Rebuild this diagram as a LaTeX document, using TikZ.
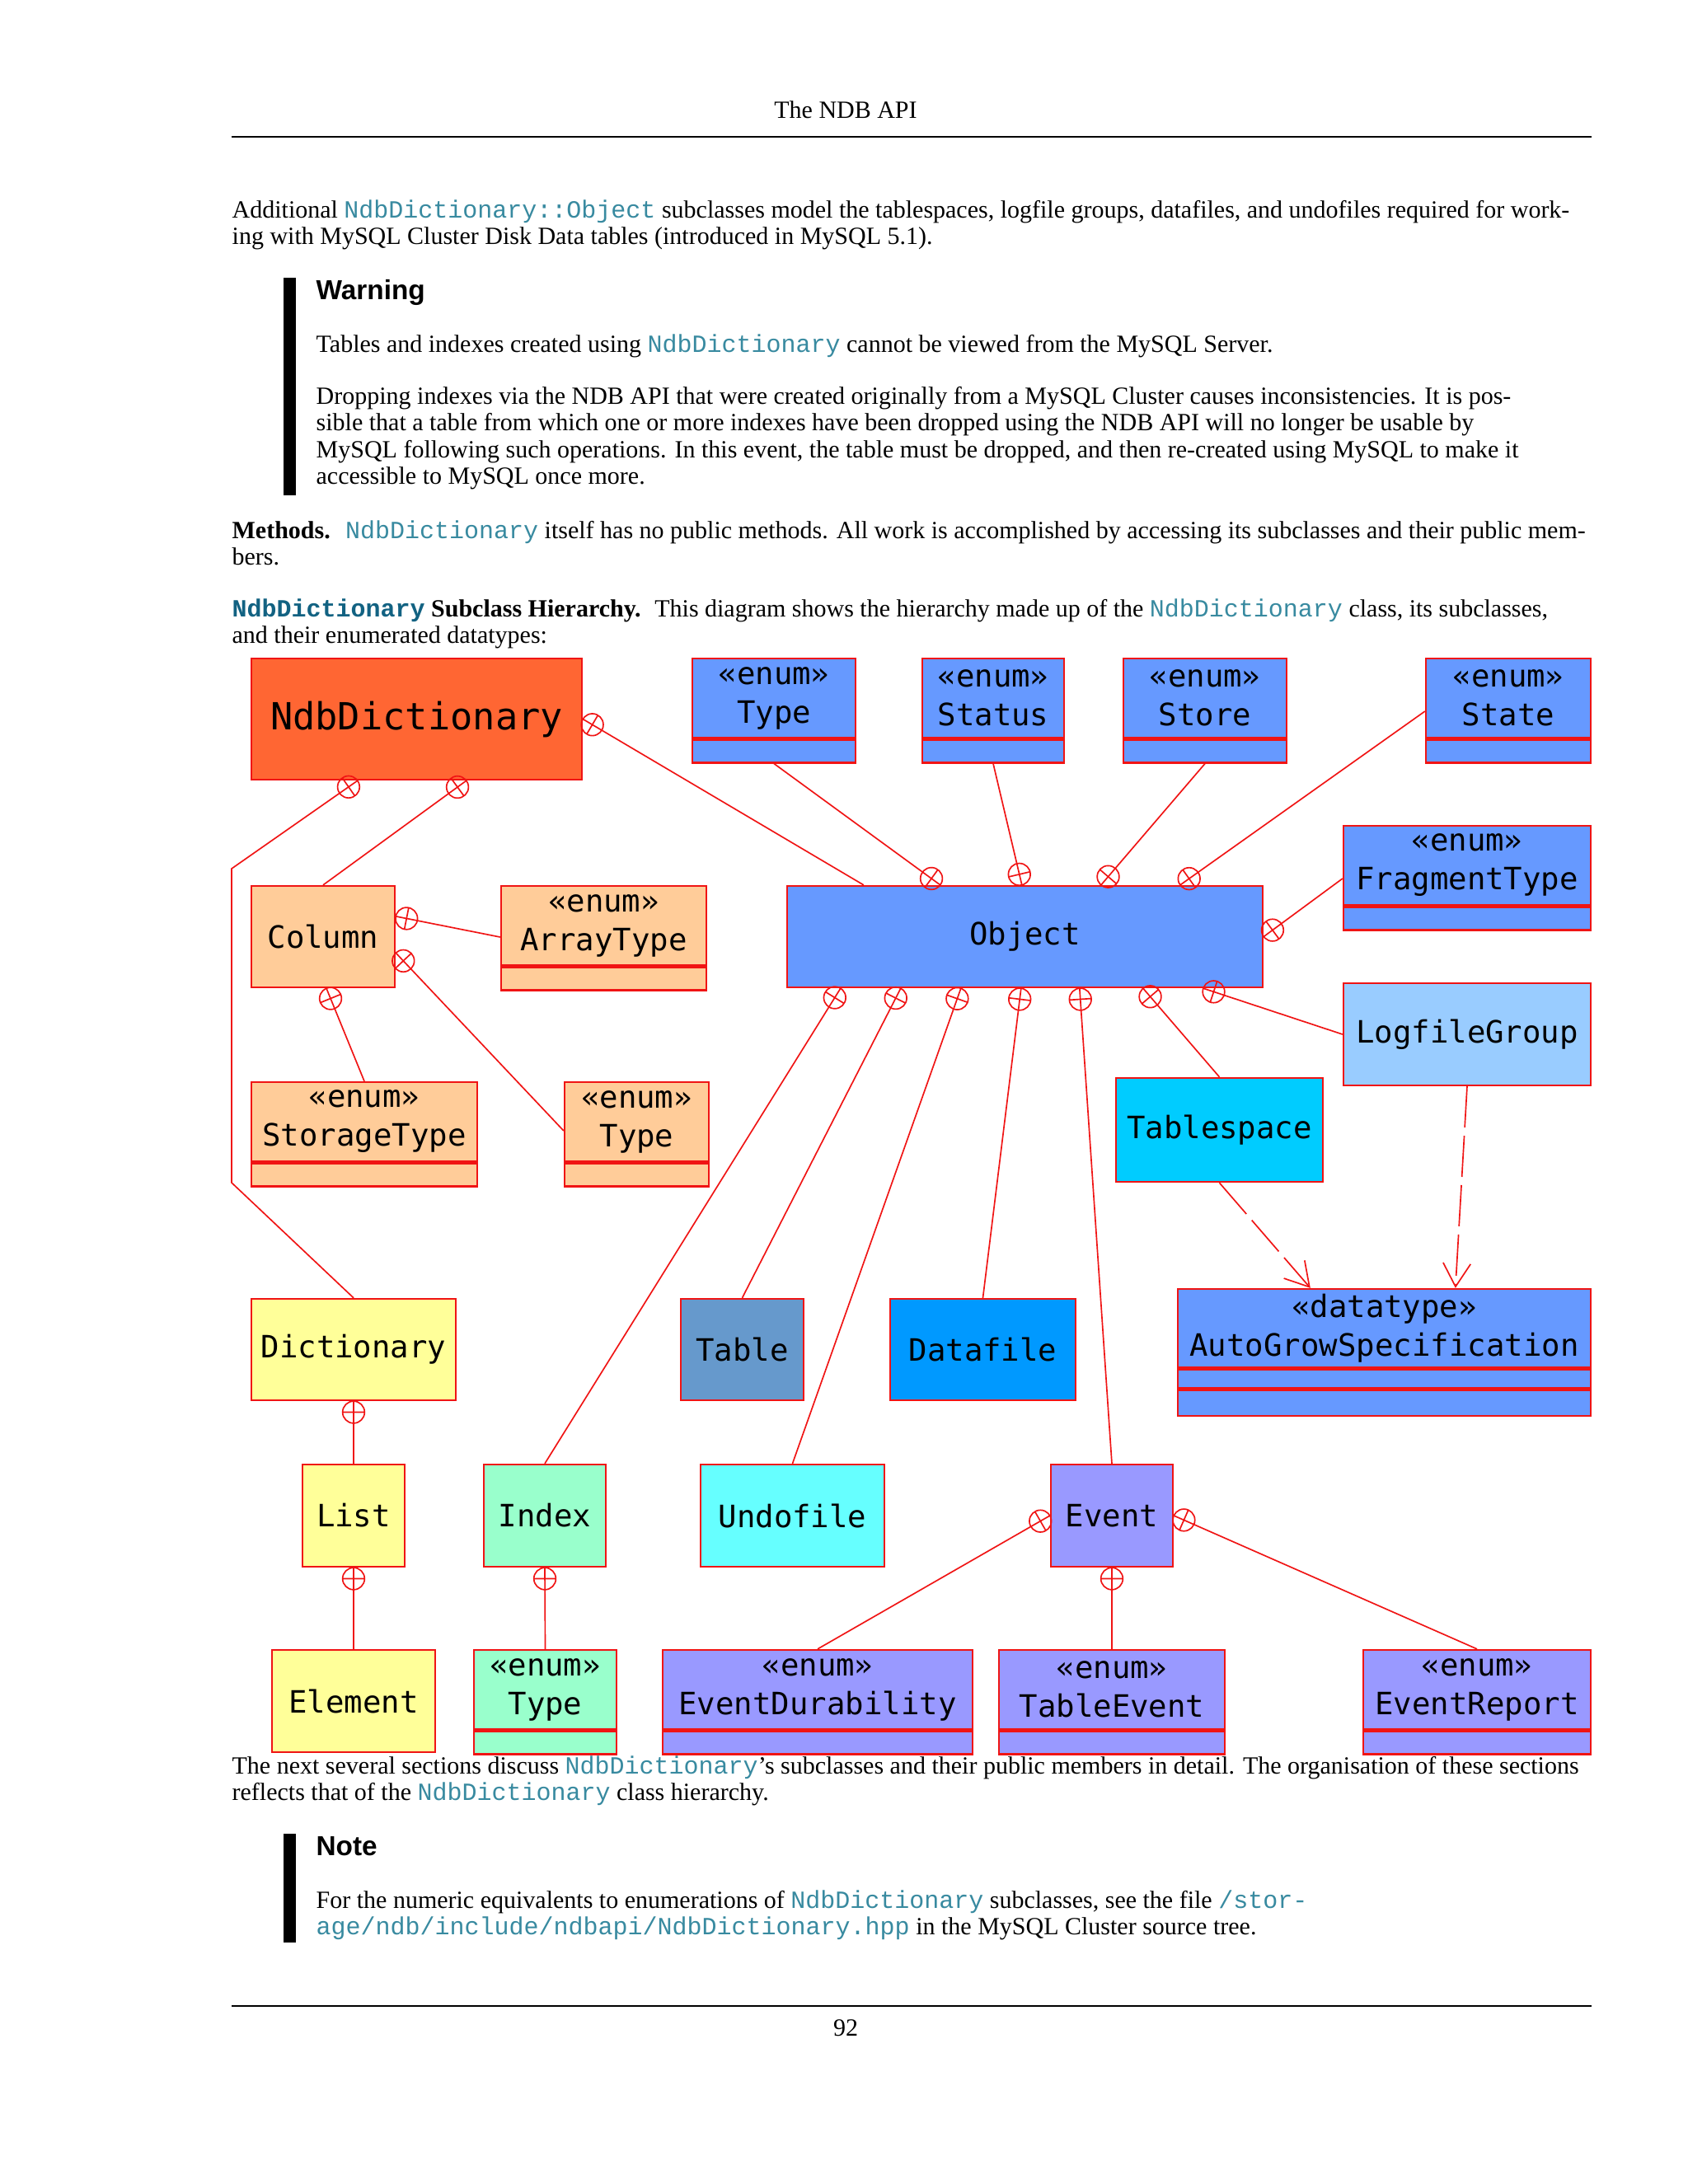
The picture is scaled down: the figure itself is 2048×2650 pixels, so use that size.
\documentclass[tikz,border=0pt]{standalone}
\usepackage{fontspec}
\setmainfont{Liberation Serif}
\setmonofont{Liberation Mono}
\newfontfamily\umlfont{DejaVu Sans Mono}
\newfontfamily\headfont{Liberation Sans}
\usetikzlibrary{positioning,calc,arrows.meta}

\definecolor{umlred}{RGB}{240,20,20}
\definecolor{linkteal}{RGB}{56,138,160}
\definecolor{headteal}{RGB}{18,98,130}
\definecolor{ndbfill}{RGB}{255,102,51}
\definecolor{objblue}{RGB}{102,153,255}
\definecolor{colpeach}{RGB}{255,204,153}
\definecolor{lfgblue}{RGB}{153,204,255}
\definecolor{tscyan}{RGB}{0,204,255}
\definecolor{dictyellow}{RGB}{255,255,153}
\definecolor{tablesteel}{RGB}{102,153,204}
\definecolor{fileblue}{RGB}{0,153,255}
\definecolor{idxmint}{RGB}{153,255,204}
\definecolor{undocyan}{RGB}{102,255,255}
\definecolor{evlilac}{RGB}{153,153,255}

\newcommand{\code}[1]{{\ttfamily\color{linkteal}#1}}
\newcommand{\bodyfont}{\fontsize{9pt}{9.75pt}\selectfont}

% nesting mark: circle with cross at the owner end
\newcommand{\nestmark}[2]{%
  \path ($(#1)!4pt!(#2)$) coordinate (nm);
  \draw[link] (nm) circle (4pt) ($(nm)!4pt!90:(#2)$) -- ($(nm)!4pt!-90:(#2)$);
}
\newcommand{\nestline}[2]{%
  \draw[link] (#1) -- (#2);
  \nestmark{#1}{#2}
}

\tikzset{
  umlbox/.style={draw=umlred, line width=0.7pt, inner sep=1pt, align=center,
    font=\umlfont\fontsize{11.2pt}{14.1pt}\selectfont},
  enumtop/.style={umlbox, minimum height=28.8pt},
  enumfoot/.style={umlbox, minimum height=8.4pt},
  link/.style={umlred, line width=0.5pt},
  dep/.style={umlred, line width=0.5pt, dash pattern=on 15pt off 3pt,
    -{Straight Barb[length=8.5pt,width=10pt]}},
  para/.style={anchor=base west, inner sep=0pt, font=\bodyfont}
}

\begin{document}
\begin{tikzpicture}[x=0.3pt, y=-0.3pt]
\useasboundingbox (0,0) rectangle (2048,2650);
\fill[white] (0,0) rectangle (2048,2650);

% page head
\node (hdr) [anchor=base, inner sep=0pt, font=\bodyfont] at (1026,143) {The NDB API};
\draw[line width=0.8pt] (281,166) -- (1931,166);

\node (intro) [para] at (281,264) {\parbox[t]{560pt}{\raggedright
Additional \code{NdbDictionary::Object} subclasses model the tablespaces, logfile groups, datafiles, and undofiles required for work-\\
ing with MySQL Cluster Disk Data tables (introduced in MySQL 5.1).}};

% warning
\fill (344,337) rectangle (359,601);
\node (warn) [anchor=base west, inner sep=0pt, font=\headfont\bfseries\fontsize{10pt}{12pt}\selectfont] at (383,363) {Warning};
\node (warn1) [para] at (383,427) {\parbox[t]{560pt}{\raggedright
Tables and indexes created using \code{NdbDictionary} cannot be viewed from the MySQL Server.}};
\node (warn2) [para] at (383,490) {\parbox[t]{560pt}{\raggedright
Dropping indexes via the NDB API that were created originally from a MySQL Cluster causes inconsistencies. It is pos-\\
sible that a table from which one or more indexes have been dropped using the NDB API will no longer be usable by\\
MySQL following such operations. In this event, the table must be dropped, and then re-created using MySQL to make it\\
accessible to MySQL once more.}};

\node (methods) [para] at (281,653) {\parbox[t]{560pt}{\raggedright
\textbf{Methods.}\hspace{5.5pt}\code{NdbDictionary} itself has no public methods. All work is accomplished by accessing its subclasses and their public mem-\\
bers.}};
\node (hier) [para] at (281,748) {\parbox[t]{560pt}{\raggedright\leavevmode
{\ttfamily\bfseries\color{headteal}NdbDictionary} \textbf{Subclass Hierarchy.}\hspace{5pt}This diagram shows the hierarchy made up of the \code{NdbDictionary} class, its subclasses,\\
and their enumerated datatypes:}};

% classes
\node (ndb) [umlbox, fill=ndbfill, minimum width=120.3pt, minimum height=44.1pt,
  font=\umlfont\fontsize{13.6pt}{16pt}\selectfont] at (505.5,872.5) {NdbDictionary};

\node (otype) [enumtop, fill=objblue, minimum width=59.4pt] at (939,847) {«enum»\\Type};
\node (otype-f) [enumfoot, fill=objblue, minimum width=59.4pt, below=0pt of otype] {};
\node (ostatus) [enumtop, fill=objblue, minimum width=51.6pt] at (1205,847) {«enum»\\Status};
\node (ostatus-f) [enumfoot, fill=objblue, minimum width=51.6pt, below=0pt of ostatus] {};
\node (ostore) [enumtop, fill=objblue, minimum width=59.4pt] at (1462,847) {«enum»\\Store};
\node (ostore-f) [enumfoot, fill=objblue, minimum width=59.4pt, below=0pt of ostore] {};
\node (ostate) [enumtop, fill=objblue, minimum width=60pt] at (1830,847) {«enum»\\State};
\node (ostate-f) [enumfoot, fill=objblue, minimum width=60pt, below=0pt of ostate] {};
\node (frag) [enumtop, fill=objblue, minimum width=90pt] at (1780,1050) {«enum»\\FragmentType};
\node (frag-f) [enumfoot, fill=objblue, minimum width=90pt, below=0pt of frag] {};

\node (col) [umlbox, fill=colpeach, minimum width=52.2pt, minimum height=36.9pt] at (392,1136.5) {Column};
\node (arr) [enumtop, fill=colpeach, minimum width=74.7pt] at (732.5,1123) {«enum»\\ArrayType};
\node (arr-f) [enumfoot, fill=colpeach, minimum width=74.7pt, below=0pt of arr] {};
\node (obj) [umlbox, fill=objblue, minimum width=173.1pt, minimum height=36.9pt] at (1243.5,1136.5) {Object};
\node (stype) [enumtop, fill=colpeach, minimum width=82.2pt] at (442,1361) {«enum»\\StorageType};
\node (stype-f) [enumfoot, fill=colpeach, minimum width=82.2pt, below=0pt of stype] {};
\node (ctype) [enumtop, fill=colpeach, minimum width=52.5pt] at (772.5,1361) {«enum»\\Type};
\node (ctype-f) [enumfoot, fill=colpeach, minimum width=52.5pt, below=0pt of ctype] {};

\node (lfg) [umlbox, fill=lfgblue, minimum width=90pt, minimum height=37.2pt] at (1780,1255) {LogfileGroup};
\node (ts) [umlbox, fill=tscyan, minimum width=75.3pt, minimum height=37.8pt] at (1479.5,1371) {Tablespace};

\node (dict) [umlbox, fill=dictyellow, minimum width=74.4pt, minimum height=36.9pt] at (429,1637.5) {Dictionary};
\node (tbl) [umlbox, fill=tablesteel, minimum width=44.7pt, minimum height=36.9pt] at (900.5,1637.5) {Table};
\node (dfile) [umlbox, fill=fileblue, minimum width=67.5pt, minimum height=36.9pt] at (1192.5,1637.5) {Datafile};
\node (ag) [umlbox, fill=objblue, minimum width=150.3pt, minimum height=28.5pt] at (1679.5,1611.5) {«datatype»\\AutoGrowSpecification};
\node (ag-m) [umlbox, fill=objblue, minimum width=150.3pt, minimum height=6.9pt, below=0pt of ag] {};
\node (ag-f) [umlbox, fill=objblue, minimum width=150.3pt, minimum height=9.3pt, below=0pt of ag-m] {};

\node (list) [umlbox, fill=dictyellow, minimum width=37.2pt, minimum height=37.2pt] at (429,1839) {List};
\node (idx) [umlbox, fill=idxmint, minimum width=44.4pt, minimum height=37.2pt] at (661,1839) {Index};
\node (undo) [umlbox, fill=undocyan, minimum width=66.9pt, minimum height=37.2pt] at (961.5,1839) {Undofile};
\node (ev) [umlbox, fill=evlilac, minimum width=44.4pt, minimum height=37.2pt] at (1349,1839) {Event};

\node (elem) [umlbox, fill=dictyellow, minimum width=59.4pt, minimum height=37.2pt] at (429,2064) {Element};
\node (itype) [enumtop, fill=idxmint, minimum width=51.9pt] at (661.5,2050) {«enum»\\Type};
\node (itype-f) [enumfoot, fill=idxmint, minimum width=51.9pt, below=0pt of itype] {};
\node (edur) [enumtop, fill=evlilac, minimum width=112.8pt] at (992,2050) {«enum»\\EventDurability};
\node (edur-f) [enumfoot, fill=evlilac, minimum width=112.8pt, below=0pt of edur] {};
\node (tev) [enumtop, fill=evlilac, minimum width=82.2pt] at (1349,2050) {«enum»\\TableEvent};
\node (tev-f) [enumfoot, fill=evlilac, minimum width=82.2pt, below=0pt of tev] {};
\node (erep) [enumtop, fill=evlilac, minimum width=82.8pt] at (1792,2050) {«enum»\\EventReport};
\node (erep-f) [enumfoot, fill=evlilac, minimum width=82.8pt, below=0pt of erep] {};

% end points on the borders
\coordinate (ndb-dict) at ($(ndb.south west)+(130,0)$);
\coordinate (ndb-col) at ($(ndb.south west)+(262,0)$);
\coordinate (dict-bend1) at (281,1054);
\coordinate (dict-bend2) at (281,1435);
\coordinate (obj-in) at ($(obj.north west)+(94,0)$);
\coordinate (obj-type) at ($(obj.north west)+(187,0)$);
\coordinate (obj-status) at ($(obj.north west)+(286,0)$);
\coordinate (obj-store) at ($(obj.north west)+(382,0)$);
\coordinate (obj-state) at ($(obj.north west)+(478,0)$);
\coordinate (state-in) at ($(ostate.west)+(0,16)$);
\coordinate (frag-in) at ($(frag.west)+(0,16)$);
\coordinate (col-arr) at ($(col.north east)+(0,38)$);
\coordinate (arr-in) at ($(arr.west)+(0,14)$);
\coordinate (col-ctype) at ($(col.south east)+(0,-43)$);
\coordinate (ctype-in) at ($(ctype.west)+(0,11)$);
\coordinate (col-stype) at ($(col.south)+(4,0)$);
\coordinate (obj-idx) at ($(obj.south west)+(66,0)$);
\coordinate (obj-tbl) at ($(obj.south west)+(139,0)$);
\coordinate (obj-undo) at ($(obj.south west)+(212,0)$);
\coordinate (obj-dfile) at ($(obj.south west)+(285,0)$);
\coordinate (obj-ev) at ($(obj.south west)+(356,0)$);
\coordinate (obj-ts) at ($(obj.south west)+(433,0)$);
\coordinate (obj-lfg) at ($(obj.south west)+(506,0)$);
\coordinate (ag-ts) at ($(ag.north west)+(162,0)$);
\coordinate (ag-lfg) at ($(ag.north west)+(338,0)$);

% nesting
\draw[link] (ndb-dict) -- (dict-bend1) -- (dict-bend2) -- (dict.north);
\nestmark{ndb-dict}{dict-bend1}
\nestline{ndb-col}{col.north}
\nestline{ndb.east}{obj-in}
\nestline{obj-type}{otype-f.south}
\nestline{obj-status}{ostatus-f.south}
\nestline{obj-store}{ostore-f.south}
\nestline{obj-state}{state-in}
\nestline{obj.east}{frag-in}
\nestline{col-arr}{arr-in}
\nestline{col-ctype}{ctype-in}
\nestline{col-stype}{stype.north}
\nestline{obj-idx}{idx.north}
\nestline{obj-tbl}{tbl.north}
\nestline{obj-undo}{undo.north}
\nestline{obj-dfile}{dfile.north}
\nestline{obj-ev}{ev.north}
\nestline{obj-ts}{ts.north}
\nestline{obj-lfg}{lfg.west}
\nestline{dict.south}{list.north}
\nestline{list.south}{elem.north}
\nestline{idx.south}{itype.north}
\nestline{ev.west}{edur.north}
\nestline{ev.south}{tev.north}
\nestline{ev.east}{erep.north}

% dependencies
\draw[dep] (ts.south) -- (ag-ts);
\draw[dep] (lfg.south) -- (ag-lfg);

% text after the diagram
\node (next) [para] at (281,2152) {\parbox[t]{560pt}{\raggedright
The next several sections discuss \code{NdbDictionary}'s subclasses and their public members in detail. The organisation of these sections\\
reflects that of the \code{NdbDictionary} class hierarchy.}};

% note
\fill (344,2225) rectangle (359,2357);
\node (note) [anchor=base west, inner sep=0pt, font=\headfont\bfseries\fontsize{10pt}{12pt}\selectfont] at (383,2251) {Note};
\node (note1) [para] at (383,2315) {\parbox[t]{560pt}{\raggedright
For the numeric equivalents to enumerations of \code{NdbDictionary} subclasses, see the file \code{/stor-}\\
\code{age/ndb/include/ndbapi/NdbDictionary.hpp} in the MySQL Cluster source tree.}};

% page foot
\draw[line width=0.8pt] (281,2434) -- (1931,2434);
\node (folio) [anchor=base, inner sep=0pt, font=\bodyfont] at (1026,2470) {92};
\end{tikzpicture}
\end{document}
